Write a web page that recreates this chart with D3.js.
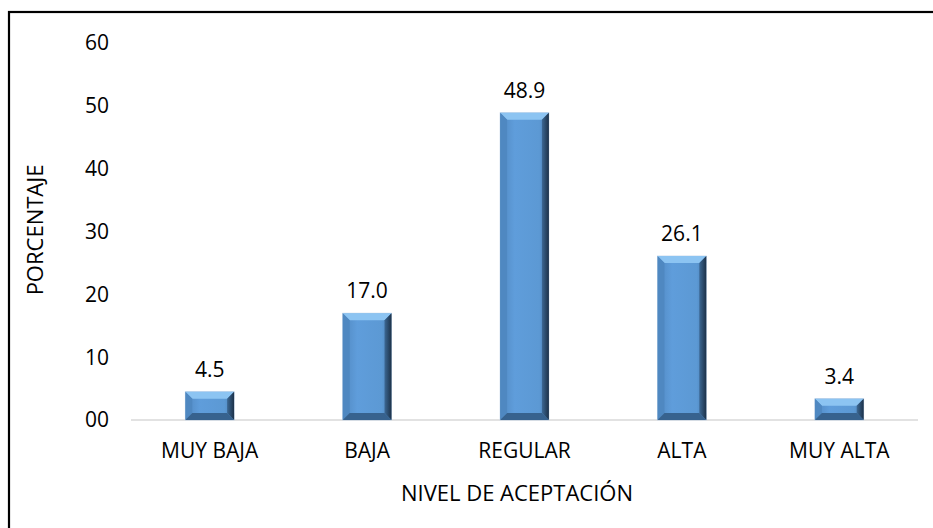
<!DOCTYPE html>
<html>
<head>
<meta charset="utf-8">
<script src="https://cdn.jsdelivr.net/npm/d3@7"></script>
<style>
  body { margin: 0; background: #fff; }
  svg { display: block; font-family: "Open Sans", "Noto Sans", sans-serif; }
</style>
</head>
<body>
<svg id="chart" width="933" height="528"></svg>
<script>
// data
var categories = ["MUY BAJA", "BAJA", "REGULAR", "ALTA", "MUY ALTA"];
var values = [4.5, 17.0, 48.9, 26.1, 3.4];
var yTicks = [0, 10, 20, 30, 40, 50, 60];

var svg = d3.select("#chart");

// frame
svg.append("rect")
	.attr("x", 9).attr("y", 12)
	.attr("width", 940).attr("height", 540)
	.attr("fill", "none").attr("stroke", "#000").attr("stroke-width", 2.2);

var x = d3.scaleBand().domain(categories).range([131, 918]).paddingInner(0.69).paddingOuter(0.345);
var y = d3.scaleLinear().domain([0, 60]).range([420, 43]);

// gradients for the bar face and side bevel
var defs = svg.append("defs");
var grad = defs.append("linearGradient").attr("id", "face").attr("x1", 0).attr("x2", 1).attr("y1", 0).attr("y2", 0);
grad.append("stop").attr("offset", "0%").attr("stop-color", "#5189c2");
grad.append("stop").attr("offset", "30%").attr("stop-color", "#5f9ddb");
grad.append("stop").attr("offset", "80%").attr("stop-color", "#5c99d4");
grad.append("stop").attr("offset", "100%").attr("stop-color", "#4a7eb2");
var side = defs.append("linearGradient").attr("id", "side").attr("x1", 0).attr("x2", 1).attr("y1", 0).attr("y2", 0);
side.append("stop").attr("offset", "0%").attr("stop-color", "#3c6894");
side.append("stop").attr("offset", "100%").attr("stop-color", "#1c3148");

// baseline
svg.append("line")
	.attr("x1", 131).attr("x2", 918)
	.attr("y1", y(0)).attr("y2", y(0))
	.attr("stroke", "#d9d9d9").attr("stroke-width", 1.3);

// y tick labels
svg.selectAll(".ytick").data(yTicks).enter().append("text")
	.attr("class", "ytick")
	.attr("x", 109)
	.attr("y", function(d){ return y(d); })
	.attr("dy", "0.35em")
	.attr("text-anchor", "end")
	.attr("font-size", 21)
	.attr("fill", "#000")
	.text(d3.format("02d"));

// bars
var bars = svg.selectAll(".bar").data(values).enter().append("g")
	.attr("class", "bar")
	.attr("transform", function(d, i){ return "translate(" + x(categories[i]) + ",0)"; });

var bw = x.bandwidth();
var bev = 7;

bars.append("rect")
	.attr("x", 0).attr("y", function(d){ return y(d); })
	.attr("width", bw).attr("height", function(d){ return y(0) - y(d); })
	.attr("fill", "url(#face)")
	.attr("stroke", "#c3d5e8").attr("stroke-width", 0.8);

function bevel(pts, fill, op) {
	bars.append("polygon")
		.attr("points", function(d){
			var t = y(d), b = y(0);
			var e = Math.min(bev, (b - t) / 2);
			return pts(t, b, e).map(function(p){ return p.join(","); }).join(" ");
		})
		.attr("fill", fill).attr("opacity", op);
}
// top bevel
bevel(function(t, b, e){ return [[0, t], [bw, t], [bw - e, t + e], [e, t + e]]; }, "#8cc4f2", 1);
// left bevel
bevel(function(t, b, e){ return [[0, t], [e, t + e], [e, b - e], [0, b]]; }, "#4f88c1", 1);
// right bevel
bevel(function(t, b, e){ return [[bw, t], [bw, b], [bw - e, b - e], [bw - e, t + e]]; }, "url(#side)", 1);
// bottom bevel
bevel(function(t, b, e){ return [[0, b], [bw, b], [bw - e, b - e], [e, b - e]]; }, "#37628e", 1);

// value labels
bars.append("text")
	.attr("x", bw / 2)
	.attr("y", function(d){ return y(d) - 15; })
	.attr("text-anchor", "middle")
	.attr("font-size", 21)
	.attr("fill", "#000")
	.text(d3.format(".1f"));

// category labels
svg.selectAll(".xlab").data(categories).enter().append("text")
	.attr("class", "xlab")
	.attr("x", function(d){ return x(d) + bw / 2; })
	.attr("y", 451)
	.attr("dy", "0.35em")
	.attr("text-anchor", "middle")
	.attr("font-size", 21)
	.attr("fill", "#000")
	.text(function(d){ return d; });

// axis titles
svg.append("text")
	.attr("x", 517).attr("y", 493)
	.attr("dy", "0.35em")
	.attr("text-anchor", "middle")
	.attr("font-size", 22)
	.text("NIVEL DE ACEPTACIÓN");

svg.append("text")
	.attr("transform", "translate(35,230) rotate(-90)")
	.attr("dy", "0.35em")
	.attr("text-anchor", "middle")
	.attr("font-size", 22)
	.text("PORCENTAJE");
</script>
</body>
</html>
